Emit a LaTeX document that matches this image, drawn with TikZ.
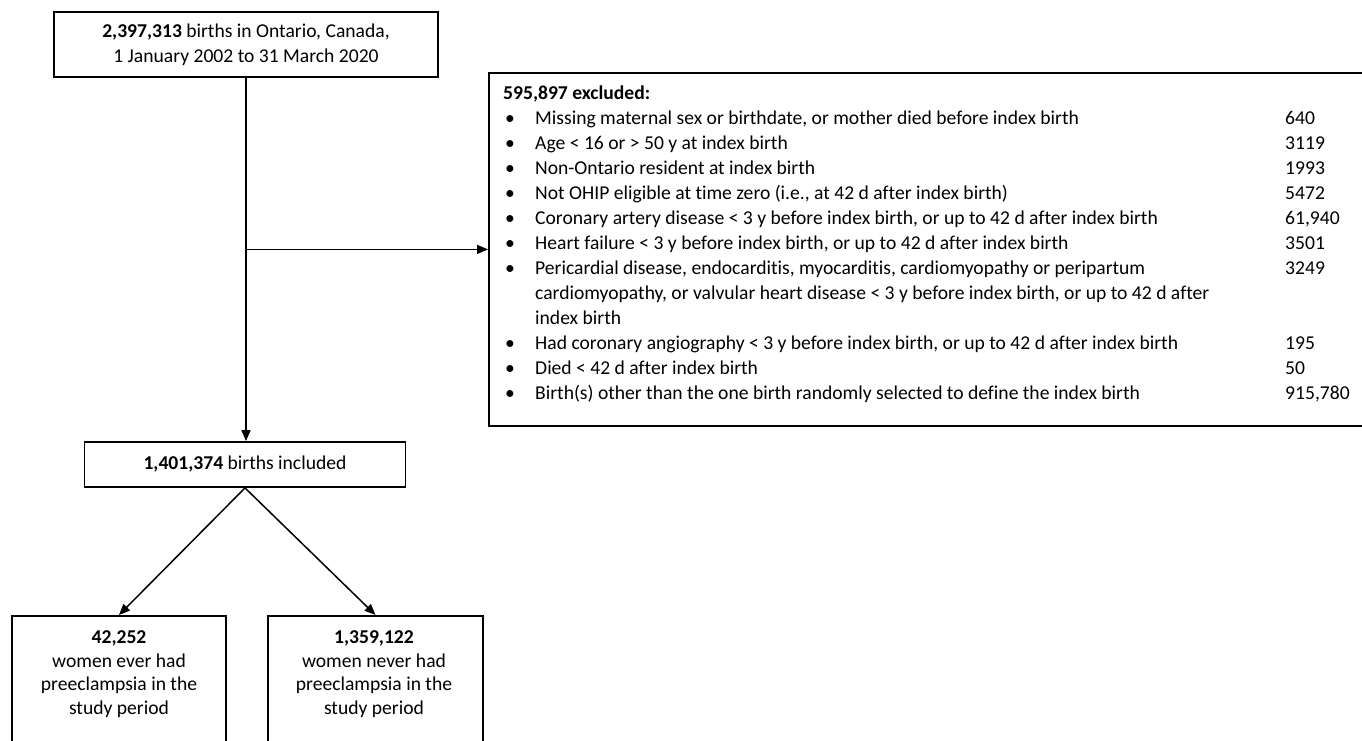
\documentclass[tikz,border=0pt]{standalone}
\usepackage{fontspec}
\setmainfont{Carlito}[Ligatures=NoCommon]
\usetikzlibrary{arrows.meta,calc}
\begin{document}
\begin{tikzpicture}[x=1pt,y=-1pt,
  font=\fontsize{19.6}{25}\selectfont,
  box/.style={draw,line width=1.8pt,rectangle,inner sep=0pt},
  arr/.style={line width=1.5pt,-{Triangle[length=11pt,width=9pt]}},
  txt/.style={inner sep=0pt,align=center}]
\useasboundingbox (0,0) rectangle (1362,740);
\clip (0,0) rectangle (1362,740);
% top box
\node[box,minimum width=384pt,minimum height=65pt,align=center] (top) at (246,44.5)
  {\textbf{2,397,313} births in Ontario, Canada,\\1 January 2002 to 31 March 2020};
% included
\node[box,minimum width=321pt,minimum height=45pt] (incl) at (245,464.5)
  {\textbf{1,401,374} births included};
% excluded box
\node[box,anchor=north west,minimum width=912pt,minimum height=353pt] (excl) at (488,72) {};
\node[anchor=north west,inner sep=0pt] (excltext) at (503,81.5) {%
\begin{tabular}{@{}p{32pt}@{}p{750pt}@{}l@{}}
\multicolumn{3}{@{}l@{}}{\textbf{595,897 excluded:}}\\
\hspace{2pt}• & Missing maternal sex or birthdate, or mother died before index birth & 640\\
\hspace{2pt}• & Age < 16 or > 50 y at index birth & 3119\\
\hspace{2pt}• & Non-Ontario resident at index birth & 1993\\
\hspace{2pt}• & Not OHIP eligible at time zero (i.e., at 42 d after index birth) & 5472\\
\hspace{2pt}• & Coronary artery disease < 3 y before index birth, or up to 42 d after index birth & 61,940\\
\hspace{2pt}• & Heart failure < 3 y before index birth, or up to 42 d after index birth & 3501\\
\hspace{2pt}• & Pericardial disease, endocarditis, myocarditis, cardiomyopathy or peripartum & 3249\\
 & cardiomyopathy, or valvular heart disease < 3 y before index birth, or up to 42 d after & \\
 & index birth & \\
\hspace{2pt}• & Had coronary angiography < 3 y before index birth, or up to 42 d after index birth & 195\\
\hspace{2pt}• & Died < 42 d after index birth & 50\\
\hspace{2pt}• & Birth(s) other than the one birth randomly selected to define the index birth & 915,780\\
\end{tabular}};
% bottom boxes
\node[box,anchor=north,minimum width=214pt,minimum height=170pt] (ever) at (119,615) {};
\node[txt,anchor=north,font=\fontsize{19.6}{23.5}\selectfont] (evertext) at (119,630.5)
  {\textbf{42,252}\\women ever had\\preeclampsia in the\\study period};
\node[box,anchor=north,minimum width=215pt,minimum height=170pt] (never) at (375.5,615) {};
\node[txt,anchor=north,font=\fontsize{19.6}{23.5}\selectfont] (nevertext) at (374,630.5)
  {\textbf{1,359,122}\\women never had\\preeclampsia in the\\study period};
% connectors
\draw[arr] (top.south) -- (top.south |- incl.north);
\coordinate (br) at (top.south |- excl.west);
\draw[arr] (br) -- (excl.west);
\draw[arr] (incl.south) -- (ever.north);
\draw[arr] (incl.south) -- (never.north);
\end{tikzpicture}
\end{document}
